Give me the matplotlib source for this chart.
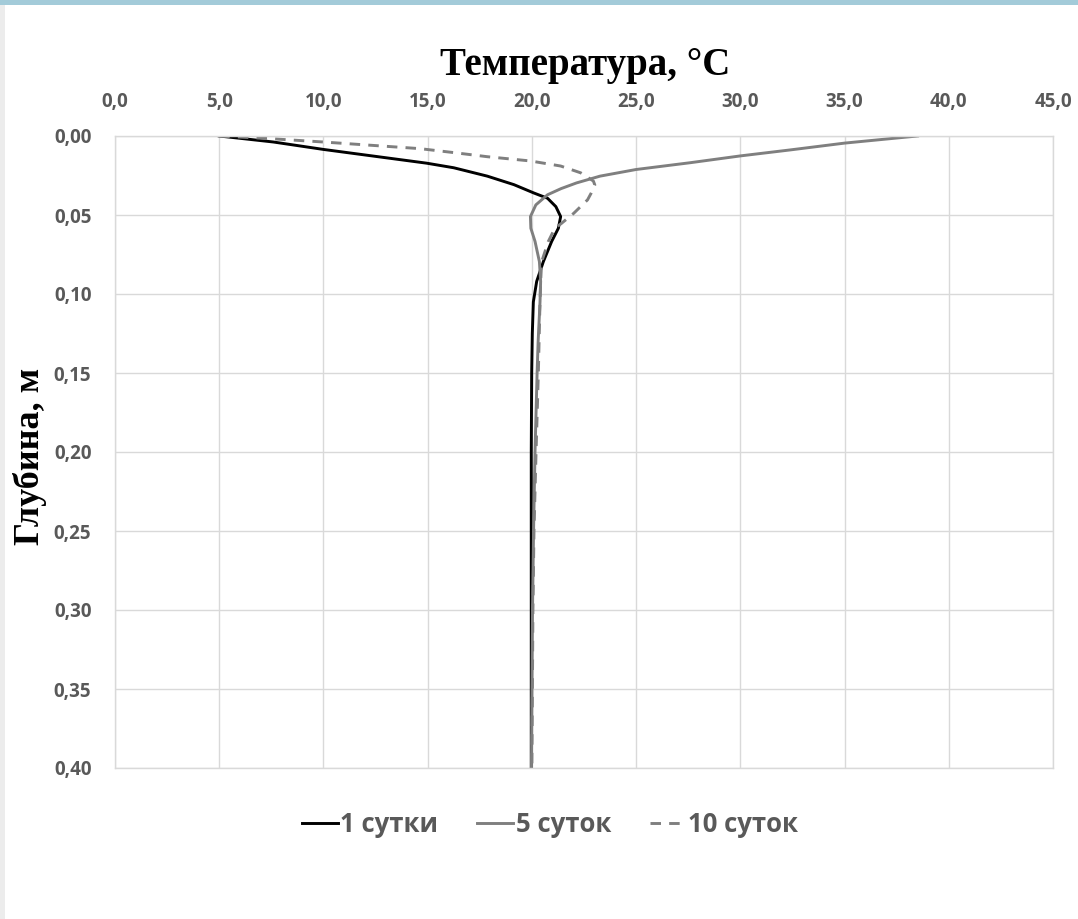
import matplotlib.pyplot as plt
from matplotlib.patches import Rectangle

# --- data (temperature, deg C / depth, m) ---
t_1day = [5.0, 7.6, 10.0, 14.95, 16.25, 17.86, 19.14, 20.1, 20.75, 21.15, 21.38, 21.27,
          20.95, 20.55, 20.23, 20.07, 20.02, 19.99, 19.97, 19.97, 19.97]
d_1day = [0.000, 0.0038, 0.0085, 0.0172, 0.0201, 0.0254, 0.0308, 0.0361, 0.0394, 0.0447, 0.051, 0.0584,
          0.0667, 0.0795, 0.092, 0.105, 0.125, 0.15, 0.20, 0.30, 0.40]

t_5days = [38.5, 35.0, 32.4, 30.0, 27.6, 25.0, 23.27, 22.14, 21.4, 20.75, 20.19, 19.93, 19.95,
           20.15, 20.36, 20.42, 20.39, 20.3, 20.25, 20.15, 20.08, 20.03, 19.98]
d_5days = [0.000, 0.0045, 0.0088, 0.0126, 0.0169, 0.0212, 0.0254, 0.0297, 0.0333, 0.0372, 0.0436, 0.051, 0.0584,
           0.0667, 0.0795, 0.092, 0.105, 0.13, 0.15, 0.20, 0.25, 0.30, 0.40]

t_10days = [5.0, 7.6, 10.0, 14.63, 16.25, 17.86, 19.93, 21.38, 22.34, 22.95, 23.02, 22.85, 22.67,
            22.0, 21.4, 21.1, 20.79, 20.47, 20.42, 20.38, 20.31, 20.2, 20.1, 20.05, 20.0]
d_10days = [0.000, 0.0018, 0.0038, 0.008, 0.0105, 0.0131, 0.0158, 0.019, 0.0233, 0.0285, 0.031, 0.036, 0.0404,
            0.049, 0.0555, 0.0584, 0.0667, 0.0795, 0.092, 0.11, 0.15, 0.20, 0.25, 0.30, 0.40]

labels = ['1 сутки', '5 суток', '10 суток']
x_ticks = [0, 5, 10, 15, 20, 25, 30, 35, 40, 45]
y_ticks = [0.00, 0.05, 0.10, 0.15, 0.20, 0.25, 0.30, 0.35, 0.40]

tick_font = 'Open Sans'
serif_font = 'Liberation Serif'
tick_color = '#595959'
grid_color = '#d9d9d9'

fig = plt.figure(figsize=(10.78, 9.19), dpi=100)
fig.patch.set_facecolor('white')
# thin frame strips seen at the edge of the screenshot
fig.add_artist(Rectangle((0, 1 - 5 / 919), 1, 5 / 919, transform=fig.transFigure,
                         color='#a3cbd9', lw=0, zorder=0))
fig.add_artist(Rectangle((0, 0), 5 / 1078, 1 - 5 / 919, transform=fig.transFigure,
                         color='#ececec', lw=0, zorder=0))

ax = fig.add_axes([115 / 1078, 1 - 768 / 919, (1053 - 115) / 1078, (768 - 136) / 919])

l1, = ax.plot(t_1day, d_1day, color='black', lw=2.1, label=labels[0])
l2, = ax.plot(t_5days, d_5days, color='#7f7f7f', lw=2.1, label=labels[1])
l3, = ax.plot(t_10days, d_10days, color='#7f7f7f', lw=2.1, ls=(0, (3.6, 2.8)), label=labels[2])

ax.set_xlim(0, 45)
ax.set_ylim(0.40, 0.00)
ax.xaxis.tick_top()
ax.set_xticks(x_ticks)
ax.set_yticks(y_ticks)
ax.set_xticklabels([f'{v:.1f}'.replace('.', ',') for v in x_ticks])
ax.set_yticklabels([f'{v:.2f}'.replace('.', ',') for v in y_ticks])
ax.tick_params(length=0, labelsize=13.5, labelcolor=tick_color)
ax.tick_params(axis='x', pad=17)
ax.tick_params(axis='y', pad=17)
for lab in ax.get_xticklabels() + ax.get_yticklabels():
    lab.set_fontfamily(tick_font)
    lab.set_fontweight('bold')

ax.grid(True, color=grid_color, lw=1)
ax.set_axisbelow(True)
for sp in ax.spines.values():
    sp.set_color(grid_color)
    sp.set_linewidth(1)

fig.text(585 / 1078, 1 - 66 / 919, 'Температура, °C', ha='center', va='center',
         fontsize=28, fontweight='bold', family=serif_font, color='black')
fig.text(30 / 1078, 1 - 456 / 919, 'Глубина, м', ha='center', va='center', rotation=90,
         fontsize=26, fontweight='bold', family=serif_font, color='black')

leg = fig.legend(handles=[l1, l2, l3], loc='center', bbox_to_anchor=(550 / 1078, 1 - 824 / 919),
                 ncol=3, frameon=False, handlelength=1.4, handletextpad=0.1,
                 columnspacing=1.5, prop={'family': tick_font, 'weight': 'bold', 'size': 18.5})
for txt in leg.get_texts():
    txt.set_color(tick_color)

fig.savefig('out.png', dpi=100)
